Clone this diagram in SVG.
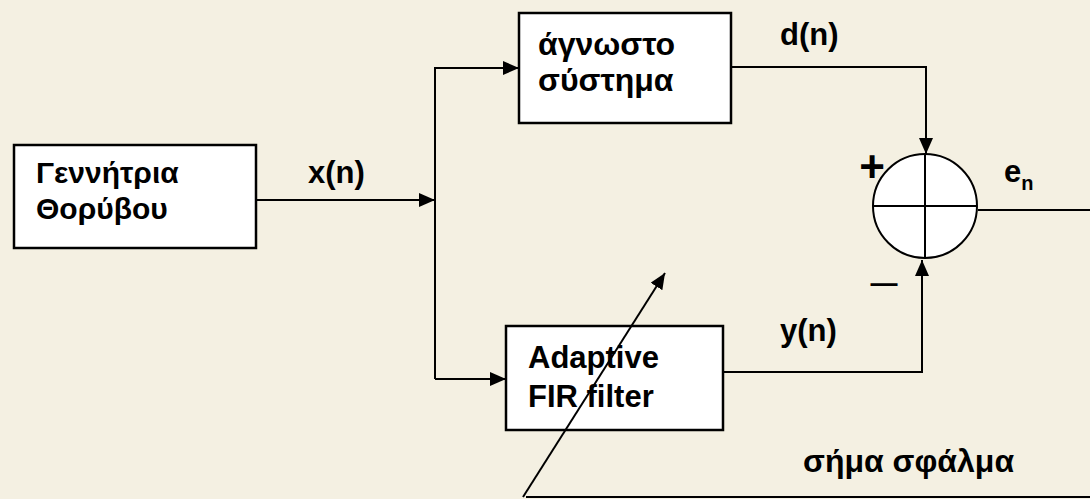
<svg xmlns="http://www.w3.org/2000/svg" width="1090" height="499" viewBox="0 0 1090 499">
<style>
.box{fill:#ffffff;stroke:#000;stroke-width:2.5}
.ln{fill:none;stroke:#000;stroke-width:2}
.t{font-family:"Liberation Sans",Arial,sans-serif;font-weight:bold;font-size:31px;fill:#000}
</style>
<defs>
<marker id="ah" markerWidth="16" markerHeight="14" refX="16" refY="7" orient="auto" markerUnits="userSpaceOnUse">
<path d="M0,0 L16,7 L0,14 Z" fill="#000"/>
</marker>
</defs>
<rect width="1090" height="499" fill="#F4F0E2"/>
<g id="generator">
<rect class="box" x="14" y="145" width="242" height="103"/>
<text class="t" x="36" y="183" style="font-size:30px">Γεννήτρια</text>
<text class="t" x="36" y="219" style="font-size:30px">Θορύβου</text>
</g>
<g id="unknown-system">
<rect class="box" x="519" y="13" width="212" height="110"/>
<text class="t" x="538" y="55" style="font-size:32px">άγνωστο</text>
<text class="t" x="538" y="91" style="font-size:32px">σύστημα</text>
</g>
<g id="adaptive-filter">
<rect class="box" x="506" y="326" width="217" height="104"/>
<text class="t" x="528" y="368">Adaptive</text>
<text class="t" x="528" y="407">FIR filter</text>
</g>
<g id="summer">
<circle cx="925" cy="206" r="52" fill="#fff" stroke="#000" stroke-width="2"/>
<line class="ln" x1="873" y1="206" x2="977" y2="206"/>
<line class="ln" x1="925" y1="154" x2="925" y2="258"/>
<text class="t" x="872" y="182" text-anchor="middle" style="font-size:44px">+</text>
<text class="t" x="884" y="292" text-anchor="middle" style="font-size:27px">—</text>
</g>
<g id="connectors">
<line class="ln" x1="256" y1="200" x2="435" y2="200" marker-end="url(#ah)"/>
<polyline class="ln" points="435,379 435,68 519,68" marker-end="url(#ah)"/>
<line class="ln" x1="435" y1="379" x2="506" y2="379" marker-end="url(#ah)"/>
<polyline class="ln" points="731,67 926,67 926,154" marker-end="url(#ah)"/>
<polyline class="ln" points="723,372 922,372 922,260" marker-end="url(#ah)"/>
<line class="ln" x1="978" y1="210" x2="1090" y2="210"/>
<line class="ln" x1="526" y1="497" x2="1090" y2="497"/>
<line class="ln" stroke-width="1.5" x1="523" y1="497" x2="665" y2="273" marker-end="url(#ah)"/>
</g>
<g id="labels">
<text class="t" x="308" y="183">x(n)</text>
<text class="t" x="780" y="45">d(n)</text>
<text class="t" x="780" y="341">y(n)</text>
<text class="t" x="1004" y="182">e<tspan style="font-size:20px" dy="8">n</tspan></text>
<text class="t" x="803" y="472" style="font-size:32px">σήμα σφάλμα</text>
</g>
</svg>
